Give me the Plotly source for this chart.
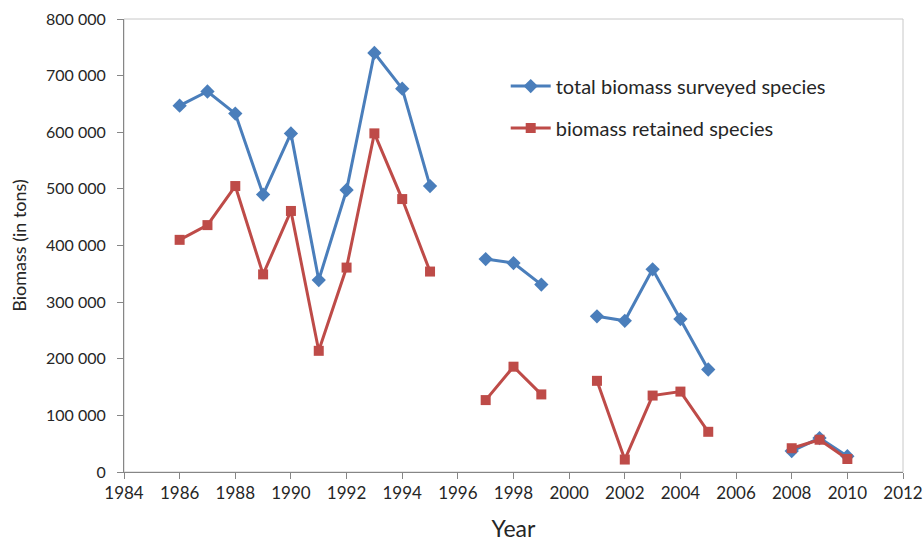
import plotly.graph_objects as go

years = [1986, 1987, 1988, 1989, 1990, 1991, 1992, 1993, 1994, 1995, 1996,
         1997, 1998, 1999, 2000, 2001, 2002, 2003, 2004, 2005, 2006, 2007,
         2008, 2009, 2010]
total_biomass = [647000, 672000, 633000, 490000, 598000, 339000, 498000, 740000, 677000, 505000, None,
                 376000, 369000, 331000, None, 275000, 267000, 358000, 270000, 181000, None, None,
                 37000, 60000, 28000]
retained_biomass = [410000, 436000, 505000, 349000, 461000, 214000, 361000, 598000, 482000, 354000, None,
                    127000, 186000, 137000, None, 161000, 22000, 135000, 142000, 71000, None, None,
                    42000, 57000, 23000]
series_names = ["total biomass surveyed species", "biomass retained species"]
x_ticks = list(range(1984, 2013, 2))
y_ticks = list(range(0, 800001, 100000))
y_ticklabels = ["0" if v == 0 else f"{v // 1000} 000" for v in y_ticks]

BLUE = "#4A7EBB"
RED = "#BE4B48"
FONT = "Lato, 'Open Sans', sans-serif"
TXT = "#262626"

fig = go.Figure()
fig.add_trace(go.Scatter(
    x=years, y=total_biomass, name=series_names[0], mode="lines+markers",
    connectgaps=False, legendgroup="a",
    line=dict(color=BLUE, width=3),
    marker=dict(symbol="diamond", size=11, color=BLUE),
))
fig.add_trace(go.Scatter(
    x=years, y=retained_biomass, name=series_names[1], mode="lines+markers",
    connectgaps=False, legendgroup="b",
    line=dict(color=RED, width=3),
    marker=dict(symbol="square", size=10, color=RED),
))

fig.update_layout(
    width=924, height=542,
    margin=dict(l=124, r=21, t=19, b=70, autoexpand=False),
    paper_bgcolor="white", plot_bgcolor="white",
    font=dict(family=FONT, color=TXT),
    showlegend=True,
    legend=dict(x=0.49, y=0.895, xanchor="left", yanchor="top",
                font=dict(size=20, family=FONT, color=TXT),
                bgcolor="rgba(0,0,0,0)", traceorder="grouped", tracegroupgap=13,
                itemwidth=40),
    shapes=[dict(type="rect", xref="paper", yref="paper", x0=0, x1=1, y0=0, y1=1,
                 line=dict(color="#C8C8C8", width=1), layer="below")],
    xaxis=dict(
        range=[1984, 2012], tickmode="array", tickvals=x_ticks,
        ticktext=[str(t) for t in x_ticks], automargin=False,
        showgrid=False, zeroline=False,
        showline=True, linecolor="#868686", linewidth=1,
        ticks="outside", ticklen=6, tickcolor="#868686",
        tickfont=dict(size=17, family=FONT, color=TXT),
        title=dict(text="Year", font=dict(size=23, family=FONT, color=TXT), standoff=22),
    ),
    yaxis=dict(
        range=[0, 800000], tickmode="array", tickvals=y_ticks, ticktext=y_ticklabels,
        automargin=False,
        showgrid=False, zeroline=False,
        showline=True, linecolor="#868686", linewidth=1,
        ticks="outside", ticklen=6, tickcolor="#868686", ticklabelstandoff=8,
        tickfont=dict(size=16, family=FONT, color=TXT),
        title=dict(text="Biomass (in tons)", font=dict(size=18, family=FONT, color=TXT), standoff=14),
    ),
)

fig.write_html("out.html", config={"displayModeBar": False})

with open("out.html", "r", encoding="utf-8") as f:
    html = f.read()
html = html.replace("<head>", "<head><style>html,body{margin:0;padding:0;overflow:hidden;}</style>", 1)
with open("out.html", "w", encoding="utf-8") as f:
    f.write(html)
